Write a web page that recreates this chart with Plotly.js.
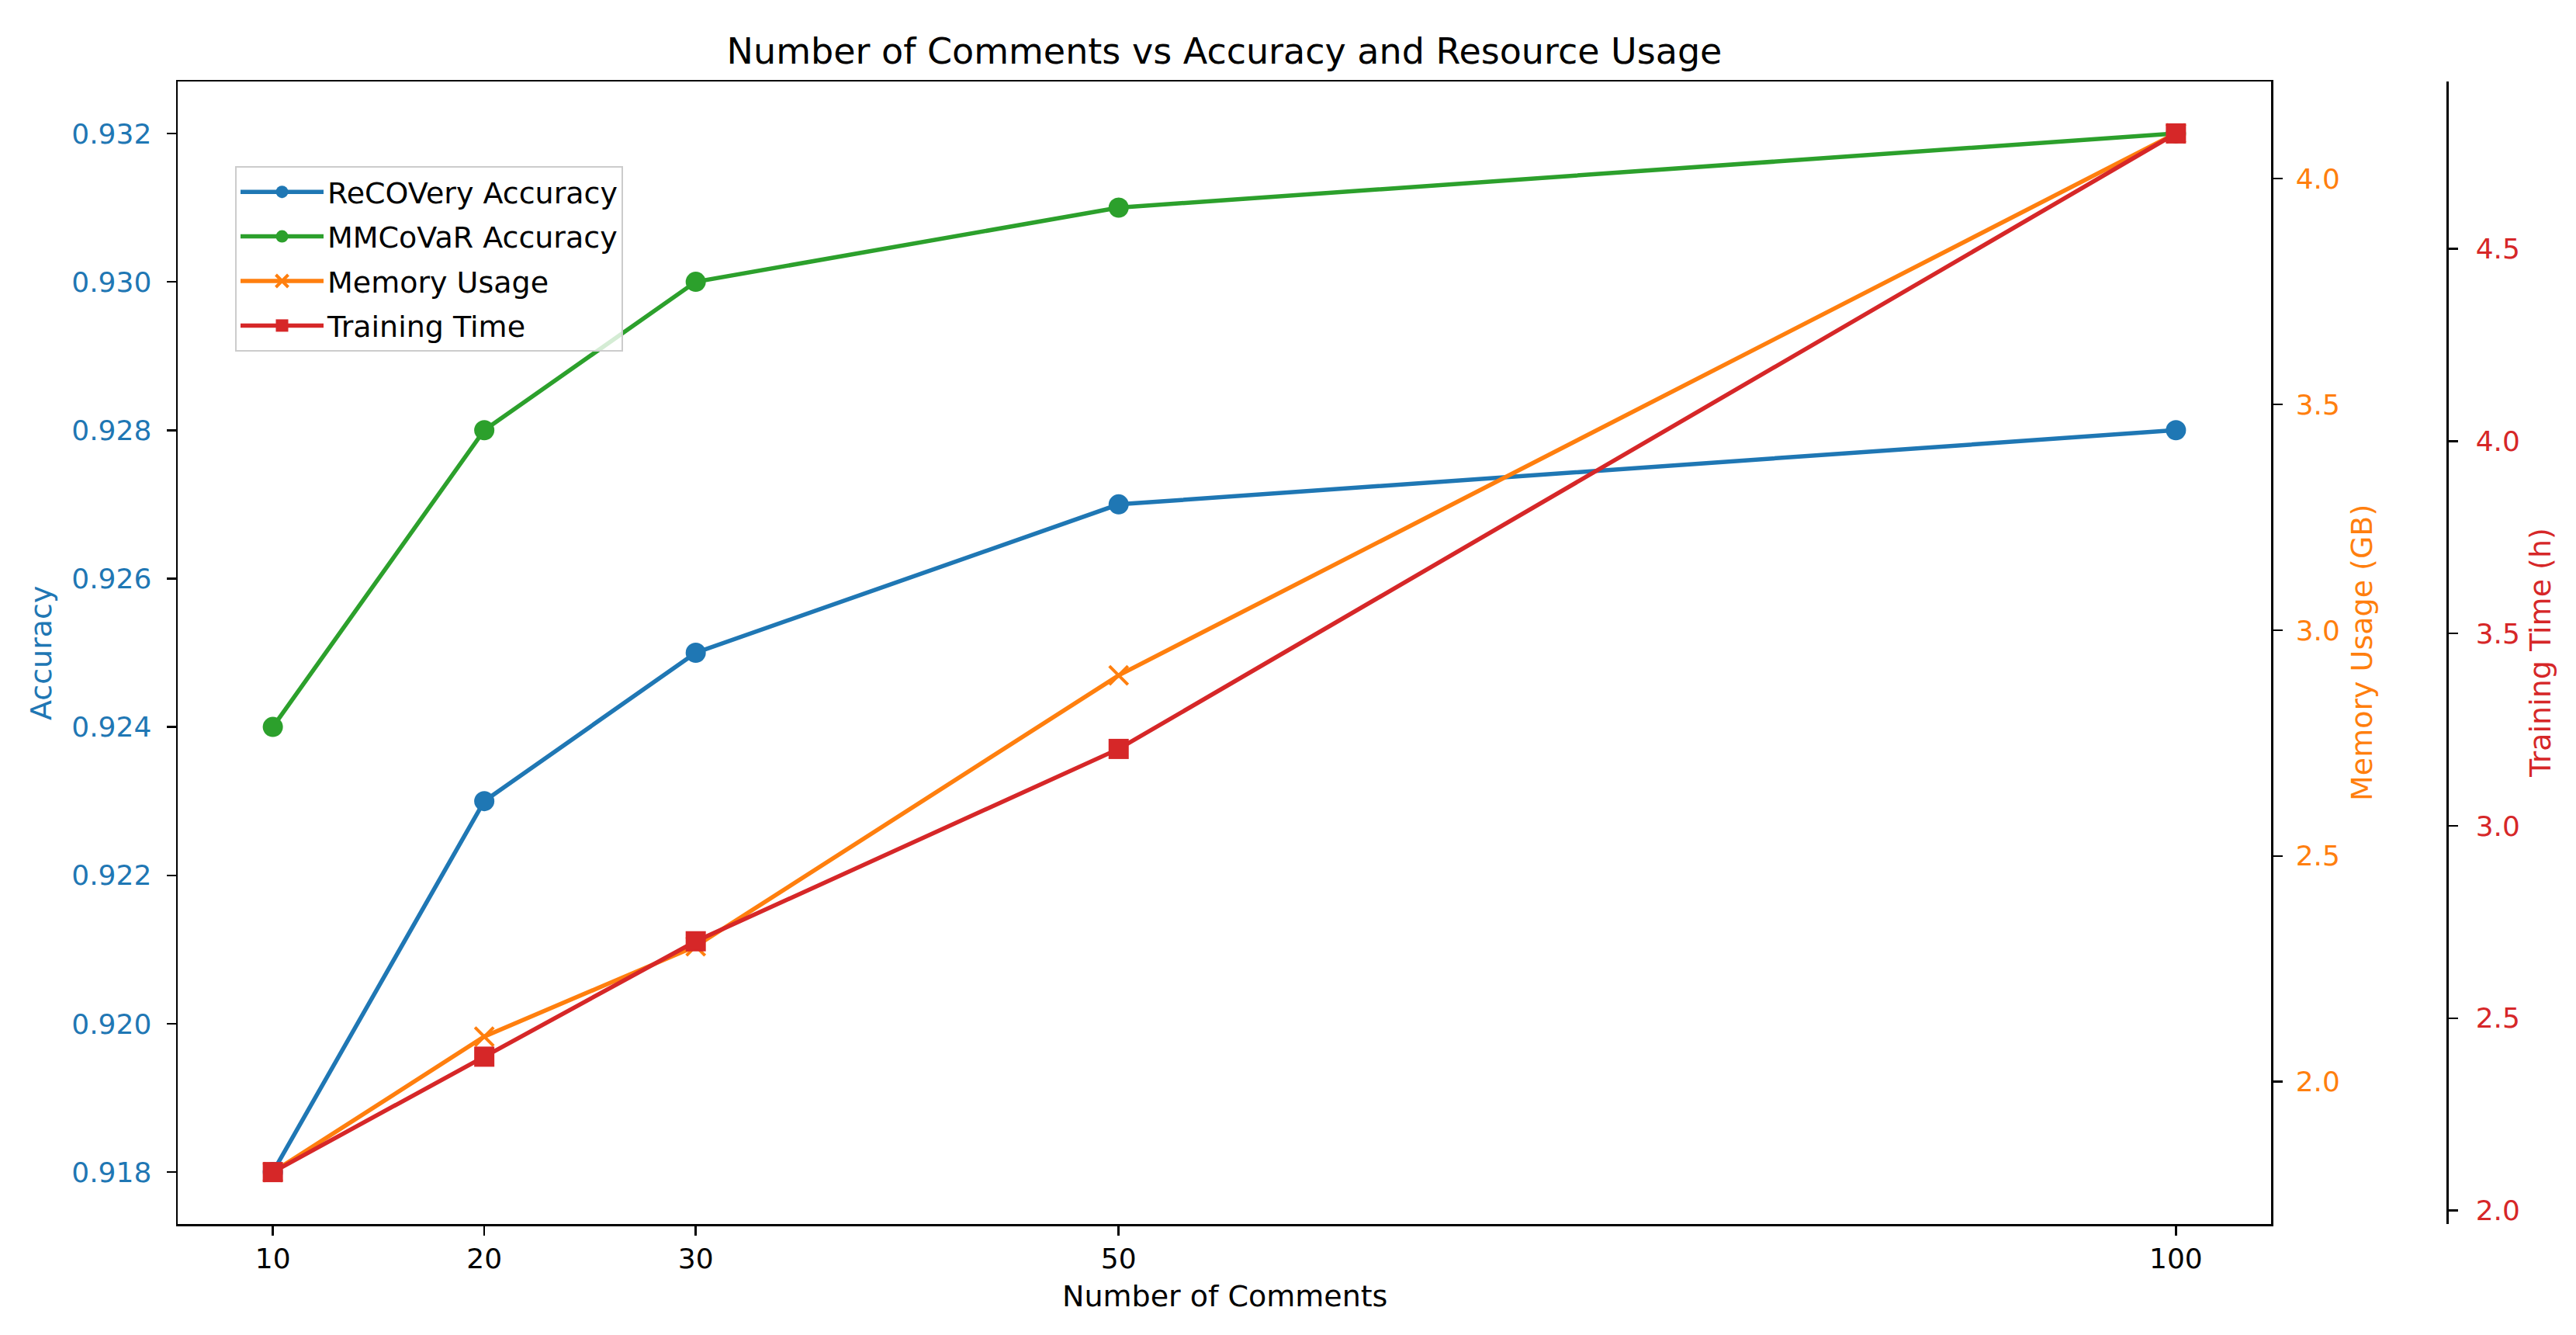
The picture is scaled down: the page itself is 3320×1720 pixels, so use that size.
<!DOCTYPE html>
<html>
<head>
<meta charset="utf-8">
<script src="https://cdn.plot.ly/plotly-3.0.1.min.js"></script>
<style>
  html, body { margin: 0; padding: 0; background: #ffffff; }
  #chart { width: 3320px; height: 1720px; }
</style>
</head>
<body>
<div id="chart"></div>
<script>
var comments = [10, 20, 30, 50, 100];
var recoveryAcc = [0.918, 0.923, 0.925, 0.927, 0.928];
var mmcovarAcc = [0.924, 0.928, 0.930, 0.931, 0.932];
var memoryGB = [1.8, 2.1, 2.3, 2.9, 4.1];
var trainHours = [2.1, 2.4, 2.7, 3.2, 4.8];

var FONT = 'DejaVu Sans, sans-serif';
var W = 3320, H = 1720;
var L = 229, R = 2927, T = 105, B = 1577;

var BLUE = '#1f77b4', GREEN = '#2ca02c', ORANGE = '#ff7f0e', RED = '#d62728';

// pixel -> paper coords (paper y spans the plot area only)
function px(x) { return x / W; }
function py(y) { return (B - y) / (B - T); }
function cy(y) { return 1 - y / H; }

var traces = [
  {
    x: comments, y: recoveryAcc, name: 'ReCOVery Accuracy',
    type: 'scatter', mode: 'lines+markers', legendgroup: 'a',
    line: { color: BLUE, width: 5.5 },
    marker: { symbol: 'circle', size: 26, color: BLUE }
  },
  {
    x: comments, y: mmcovarAcc, name: 'MMCoVaR Accuracy',
    type: 'scatter', mode: 'lines+markers', legendgroup: 'b',
    line: { color: GREEN, width: 5.5 },
    marker: { symbol: 'circle', size: 26, color: GREEN }
  },
  {
    x: comments, y: memoryGB, name: 'Memory Usage', yaxis: 'y2',
    type: 'scatter', mode: 'lines+markers', legendgroup: 'c',
    line: { color: ORANGE, width: 5.5 },
    marker: { symbol: 'x-thin', size: 24, color: ORANGE, line: { color: ORANGE, width: 4 } }
  },
  {
    x: comments, y: trainHours, name: 'Training Time', yaxis: 'y3',
    type: 'scatter', mode: 'lines+markers', legendgroup: 'd',
    line: { color: RED, width: 5.5 },
    marker: { symbol: 'square', size: 26, color: RED }
  }
];

var FS = 38;
var TFS = 36;

var layout = {
  width: W, height: H,
  paper_bgcolor: '#ffffff',
  plot_bgcolor: '#ffffff',
  font: { family: FONT, color: '#000000', size: FS },
  margin: { l: 0, r: 0, t: T, b: H - B, pad: 0 },
  showlegend: true,
  title: {
    text: 'Number of Comments vs Accuracy and Resource Usage',
    font: { family: FONT, size: 46, color: '#000000' },
    x: (L + R) / 2 / W, xanchor: 'center',
    y: cy(66), yanchor: 'middle'
  },
  xaxis: {
    domain: [px(L), px(R)],
    range: [5.5, 104.5],
    tickvals: comments,
    ticktext: comments.map(String),
    ticks: 'outside', ticklen: 12, tickwidth: 2.5, tickcolor: '#000000',
    ticklabelstandoff: -1,
    showline: true, linecolor: '#000000', linewidth: 2.5, mirror: true,
    showgrid: false, zeroline: false, automargin: false,
    tickfont: { family: FONT, size: TFS, color: '#000000' }
  },
  yaxis: {
    range: [0.9173, 0.9327],
    dtick: 0.002, tick0: 0.918, tickformat: '.3f',
    ticks: 'outside', ticklen: 12, tickwidth: 2.5, tickcolor: '#000000',
    ticklabelstandoff: 12,
    showline: true, linecolor: '#000000', linewidth: 2.5,
    showgrid: false, zeroline: false, automargin: false,
    tickfont: { family: FONT, size: TFS, color: BLUE }
  },
  yaxis2: {
    overlaying: 'y', side: 'right', anchor: 'x',
    range: [1.685, 4.215],
    dtick: 0.5, tick0: 2.0, tickformat: '.1f',
    ticks: 'outside', ticklen: 12, tickwidth: 2.5, tickcolor: '#000000',
    ticklabelstandoff: 10,
    showline: true, linecolor: '#000000', linewidth: 2.5,
    showgrid: false, zeroline: false, automargin: false,
    tickfont: { family: FONT, size: TFS, color: ORANGE }
  },
  yaxis3: {
    overlaying: 'y', side: 'right', anchor: 'free', position: px(3154),
    range: [1.965, 4.935],
    dtick: 0.5, tick0: 2.0, tickformat: '.1f',
    ticks: 'outside', ticklen: 12, tickwidth: 2.5, tickcolor: '#000000',
    ticklabelstandoff: 16,
    showline: true, linecolor: '#000000', linewidth: 2.5,
    showgrid: false, zeroline: false, automargin: false,
    tickfont: { family: FONT, size: TFS, color: RED }
  },
  legend: {
    x: px(303), y: py(214), xanchor: 'left', yanchor: 'top',
    bgcolor: 'rgba(255,255,255,0.8)', bordercolor: '#cccccc', borderwidth: 2,
    font: { family: FONT, size: FS, color: '#000000' },
    traceorder: 'grouped', tracegroupgap: 5,
    itemwidth: 107
  },
  annotations: [
    {
      text: 'Number of Comments', xref: 'paper', yref: 'paper',
      x: (L + R) / 2 / W, y: py(1670), xanchor: 'center', yanchor: 'middle',
      showarrow: false, font: { family: FONT, size: FS, color: '#000000' }
    },
    {
      text: 'Accuracy', xref: 'paper', yref: 'paper', textangle: -90,
      x: px(53), y: py(841), xanchor: 'center', yanchor: 'middle',
      showarrow: false, font: { family: FONT, size: FS, color: BLUE }
    },
    {
      text: 'Memory Usage (GB)', xref: 'paper', yref: 'paper', textangle: -90,
      x: px(3044), y: py(841), xanchor: 'center', yanchor: 'middle',
      showarrow: false, font: { family: FONT, size: FS, color: ORANGE }
    },
    {
      text: 'Training Time (h)', xref: 'paper', yref: 'paper', textangle: -90,
      x: px(3274), y: py(841), xanchor: 'center', yanchor: 'middle',
      showarrow: false, font: { family: FONT, size: FS, color: RED }
    }
  ]
};

Plotly.newPlot('chart', traces, layout, { displayModeBar: false, staticPlot: true });
</script>
</body>
</html>
